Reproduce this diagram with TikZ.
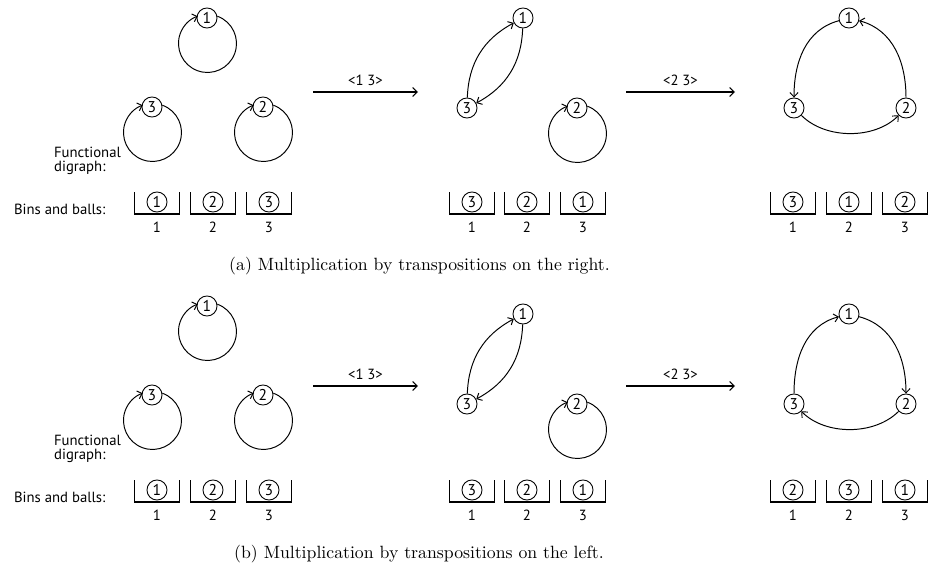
\documentclass[tikz,border=0pt]{standalone}
\usepackage{fontspec}
\newfontfamily\labfont{PT Sans}
\usetikzlibrary{positioning,calc,arrows.meta}

\tikzset{
  lab/.style={inner sep=1pt,font=\labfont\fontsize{8.3}{8}\selectfont},
  ball/.style={circle,draw,line width=0.5pt,inner sep=0pt,minimum size=11.3pt,
    font=\labfont\fontsize{8.8}{9}\selectfont},
  link/.style={-{Straight Barb[length=2.4pt,width=4.6pt]},line width=0.55pt},
  transp/.style={-{Straight Barb[length=2.6pt,width=5pt]},line width=0.6pt},
  binwall/.style={line width=1pt},
}
% loop under a node, a circle through the node
\newcommand\selfloop[1]{\draw[link] (#1.10.9) arc[start angle=70.2,end angle=-250.2,radius=29];}
% a row of three bins with a ball each
\newcommand\binrow[3]{%
  \foreach \x/\b [count=\i] in {#3}{%
    \node[ball] (#1\i) at (\x,#2) {\b};
    \draw[binwall] ([shift={(-22.5,10)}]#1\i.center) |- ([shift={(22.5,-12)}]#1\i.center) -- ++(0,22);
    \node[lab] (#1n\i) at (\x,#2-25) {\i};
  }}

\begin{document}
\begin{tikzpicture}[x=0.5635pt,y=0.5635pt]
\useasboundingbox (0,0) rectangle (932,-571);

% (a) on the right
\node[lab,align=left,anchor=west] (tfd) at (52,-161) {Functional\\digraph:};
\node[lab,anchor=west] (tbb) at (12,-209) {Bins and balls:};

\node[ball] (tl1) at (207,-18) {1};
\node[ball] (tl3) at (152,-107) {3};
\node[ball] (tl2) at (263,-107) {2};
\selfloop{tl1}\selfloop{tl3}\selfloop{tl2}

\coordinate (ts1) at (313,-92); \coordinate (te1) at (418,-92);
\draw[transp] (ts1) -- node[lab,above=2.5pt] (tt1) {<1 3>} (te1);

\node[ball] (tm1) at (523,-18) {1};
\node[ball] (tm3) at (467,-108) {3};
\node[ball] (tm2) at (577,-108) {2};
\draw[link] (tm3) to[bend left=30] (tm1);
\draw[link] (tm1) to[bend left=30] (tm3);
\selfloop{tm2}

\coordinate (ts2) at (626,-92); \coordinate (te2) at (735,-92);
\draw[transp] (ts2) -- node[lab,above=2.5pt] (tt2) {<2 3>} (te2);

\node[ball] (tr1) at (849,-18) {1};
\node[ball] (tr3) at (794,-108) {3};
\node[ball] (tr2) at (906,-108) {2};
\draw[link] (tr1) to[out=195,in=90] (tr3);
\draw[link] (tr3) to[out=-45,in=-135,looseness=0.9] (tr2);
\draw[link] (tr2) to[out=90,in=-15] (tr1);

\binrow{tlb}{-202}{157/1,213/2,269/3}
\binrow{tmb}{-202}{472/3,527/2,583/1}
\binrow{trb}{-202}{793/3,849/1,905/2}

\node (capa) at (419.5,-266) {(a) Multiplication by transpositions on the right.};

% (b) on the left
\node[lab,align=left,anchor=west] (bfd) at (52,-449) {Functional\\digraph:};
\node[lab,anchor=west] (bbb) at (12,-497) {Bins and balls:};

\node[ball] (bl1) at (207,-306) {1};
\node[ball] (bl3) at (152,-395) {3};
\node[ball] (bl2) at (263,-395) {2};
\selfloop{bl1}\selfloop{bl3}\selfloop{bl2}

\coordinate (bs1) at (313,-386); \coordinate (be1) at (418,-386);
\draw[transp] (bs1) -- node[lab,above=2.5pt] (bt1) {<1 3>} (be1);

\node[ball] (bm1) at (523,-314) {1};
\node[ball] (bm3) at (467,-404) {3};
\node[ball] (bm2) at (577,-404) {2};
\draw[link] (bm3) to[bend left=30] (bm1);
\draw[link] (bm1) to[bend left=30] (bm3);
\selfloop{bm2}

\coordinate (bs2) at (626,-386); \coordinate (be2) at (735,-386);
\draw[transp] (bs2) -- node[lab,above=2.5pt] (bt2) {<2 3>} (be2);

\node[ball] (br1) at (849,-314) {1};
\node[ball] (br3) at (794,-404) {3};
\node[ball] (br2) at (906,-404) {2};
\draw[link] (br3) to[out=90,in=195] (br1);
\draw[link] (br1) to[out=-15,in=90] (br2);
\draw[link] (br2) to[out=-135,in=-45,looseness=0.9] (br3);

\binrow{blb}{-490}{157/1,213/2,269/3}
\binrow{bmb}{-490}{472/3,527/2,583/1}
\binrow{brb}{-490}{793/2,849/3,905/1}

\node (capb) at (419,-554) {(b) Multiplication by transpositions on the left.};
\end{tikzpicture}
\end{document}
